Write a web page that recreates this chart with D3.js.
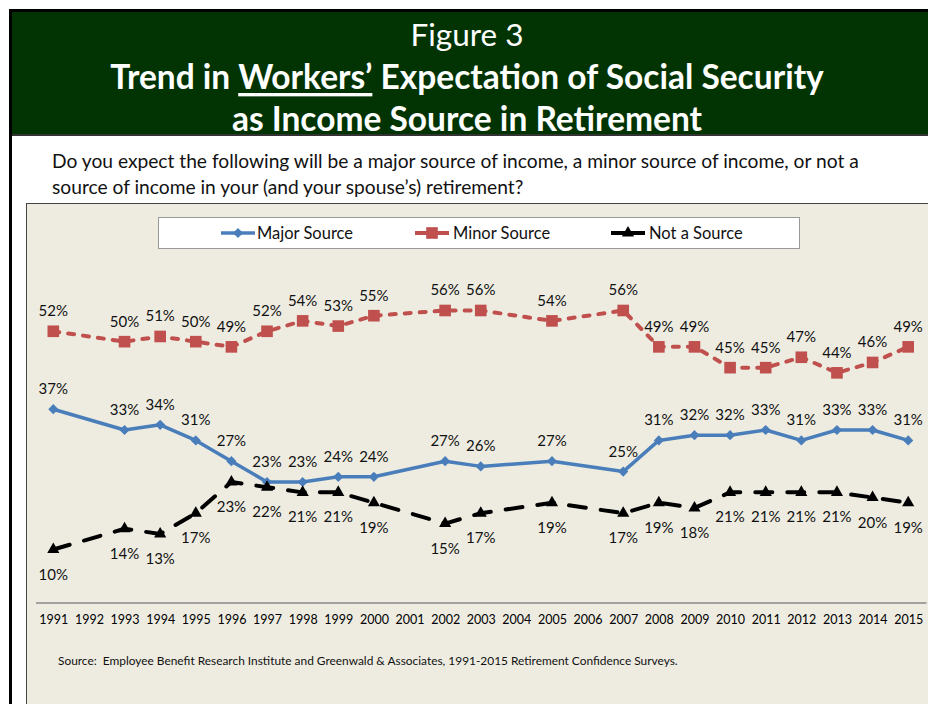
<!DOCTYPE html>
<html>
<head>
<meta charset="utf-8">
<script src="https://cdn.jsdelivr.net/npm/d3@7"></script>
<style>
  body { margin: 0; background: #fff; }
  text { font-family: Lato, "Open Sans", sans-serif; }
</style>
</head>
<body>
<script>
var w = 928
var h = 704

// all category years on the axis (gaps where there was no survey)
var axisYears = d3.range(1991, 2016)

// survey years with data
var years = [1991, 1993, 1994, 1995, 1996, 1997, 1998, 1999, 2000, 2002, 2003, 2005, 2007, 2008, 2009, 2010, 2011, 2012, 2013, 2014, 2015]
var major = [37, 33, 34, 31, 27, 23, 23, 24, 24, 27, 26, 27, 25, 31, 32, 32, 33, 31, 33, 33, 31]
var minor = [52, 50, 51, 50, 49, 52, 54, 53, 55, 56, 56, 54, 56, 49, 49, 45, 45, 47, 44, 46, 49]
var notSource = [10, 14, 13, 17, 23, 22, 21, 21, 19, 15, 17, 19, 17, 19, 18, 21, 21, 21, 21, 20, 19]

var seriesNames = ["Major Source", "Minor Source", "Not a Source"]

var svg = d3.select("body")
    .append("svg")
    .attr("width", w)
    .attr("height", h)

// outer frame and header
svg.append("rect")
    .attr("x", 10.5).attr("y", 10.5)
    .attr("width", 1000).attr("height", 1000)
    .attr("fill", "#fff")
    .attr("stroke", "#000")
    .attr("stroke-width", 3)

svg.append("rect")
    .attr("x", 12).attr("y", 12)
    .attr("width", w).attr("height", 122)
    .attr("fill", "#023302")

svg.append("line")
    .attr("x1", 12).attr("x2", w)
    .attr("y1", 135).attr("y2", 135)
    .attr("stroke", "#333")
    .attr("stroke-width", 2)

svg.append("text")
    .attr("x", 467).attr("y", 34)
    .attr("text-anchor", "middle")
    .attr("dominant-baseline", "central")
    .attr("fill", "#fff")
    .style("font-size", "31.5px")
    .text("Figure 3")

var t2 = svg.append("text")
    .attr("x", 467).attr("y", 76)
    .attr("text-anchor", "middle")
    .attr("dominant-baseline", "central")
    .attr("fill", "#fff")
    .style("font-size", "33.5px")
    .style("font-weight", "bold")
t2.append("tspan").text("Trend in ")
t2.append("tspan").style("text-decoration", "underline").text("Workers’")
t2.append("tspan").text(" Expectation of Social Security")

svg.append("text")
    .attr("x", 467).attr("y", 118)
    .attr("text-anchor", "middle")
    .attr("dominant-baseline", "central")
    .attr("fill", "#fff")
    .style("font-size", "33.5px")
    .style("font-weight", "bold")
    .text("as Income Source in Retirement")

// question
var question = [
    "Do you expect the following will be a major source of income, a minor source of income, or not a",
    "source of income in your (and your spouse’s) retirement?"
]
svg.selectAll(".question")
    .data(question)
    .enter()
    .append("text")
    .attr("class", "question")
    .attr("x", 52)
    .attr("y", function(d, i) { return 160 + i * 26 })
    .attr("dominant-baseline", "central")
    .attr("fill", "#111")
    .style("font-size", "19.2px")
    .text(function(d) { return d })

// chart area
svg.append("rect")
    .attr("x", 26.5).attr("y", 203.5)
    .attr("width", 1000).attr("height", 1000)
    .attr("fill", "#EEECE1")
    .attr("stroke", "#444")
    .attr("stroke-width", 1)

var x = d3.scalePoint()
    .domain(axisYears)
    .range([35.5, 926])
    .padding(0.5)

var y = d3.scaleLinear()
    .domain([0, 60])
    .range([601.5, 289.7])

// x axis
var xAxis = d3.axisBottom(x)
    .tickSize(0)
    .tickPadding(13)
    .tickFormat(d3.format("d"))

var gx = svg.append("g")
    .attr("transform", "translate(0,602.5)")
    .call(xAxis)
gx.select(".domain").attr("stroke", "#888").attr("stroke-width", 1.5)
gx.selectAll("text")
    .attr("fill", "#000")
    .style("font-size", "12.5px")
    .style("font-family", "Lato, sans-serif")

var diamond = d3.symbol().type(d3.symbolSquare).size(52)
var square = d3.symbol().type(d3.symbolSquare).size(135)
var triangle = d3.symbol().type(d3.symbolTriangle).size(64)

var series = [
    { name: seriesNames[0], values: major, color: "#4A7EBB", dash: null, cap: "butt", width: 3.5,
      marker: diamond, rotate: 45, labelDy: -21 },
    { name: seriesNames[1], values: minor, color: "#C0504D", dash: "6,9", cap: "round", width: 4,
      marker: square, rotate: 0, labelDy: -21 },
    { name: seriesNames[2], values: notSource, color: "#000", dash: "17,15", cap: "round", width: 4,
      marker: triangle, rotate: 0, labelDy: 24 }
]

var line = d3.line()
    .x(function(d) { return x(d.year) })
    .y(function(d) { return y(d.value) })

series.forEach(function(s) {
    var pts = years.map(function(yr, i) { return { year: yr, value: s.values[i] } })
    var g = svg.append("g")

    g.append("path")
        .datum(pts)
        .attr("d", line)
        .attr("fill", "none")
        .attr("stroke", s.color)
        .attr("stroke-width", s.width)
        .attr("stroke-dasharray", s.dash)
        .attr("stroke-linecap", s.cap)
        .attr("stroke-linejoin", "round")

    g.selectAll(".marker")
        .data(pts)
        .enter()
        .append("path")
        .attr("d", s.marker)
        .attr("transform", function(d) {
            return "translate(" + x(d.year) + "," + y(d.value) + ") rotate(" + s.rotate + ")"
        })
        .attr("fill", s.color)

    g.selectAll(".label")
        .data(pts)
        .enter()
        .append("text")
        .attr("x", function(d) { return x(d.year) })
        .attr("y", function(d) { return y(d.value) + s.labelDy })
        .attr("text-anchor", "middle")
        .attr("dominant-baseline", "central")
        .attr("fill", "#111")
        .style("font-size", "15px")
        .text(function(d) { return d.value + "%" })
})

// legend
svg.append("rect")
    .attr("x", 158.5).attr("y", 217.5)
    .attr("width", 641).attr("height", 31)
    .attr("fill", "#fff")
    .attr("stroke", "#999")

var legendX = [221, 415, 611]
var leg = svg.selectAll(".legend")
    .data(series)
    .enter()
    .append("g")
    .attr("transform", function(d, i) { return "translate(" + legendX[i] + ",233)" })

leg.append("line")
    .attr("x1", 0).attr("x2", 34)
    .attr("stroke", function(d) { return d.color })
    .attr("stroke-width", function(d) { return d.width })
leg.append("path")
    .attr("d", function(d) { return d.marker() })
    .attr("transform", function(d) { return "translate(17,0) rotate(" + d.rotate + ")" })
    .attr("fill", function(d) { return d.color })
leg.append("text")
    .attr("x", function(d, i) { return i == 0 ? 36 : 38 })
    .attr("dominant-baseline", "central")
    .attr("fill", "#111")
    .style("font-size", "16.5px")
    .text(function(d) { return d.name })

// source note
svg.append("text")
    .attr("x", 58).attr("y", 660.5)
    .attr("dominant-baseline", "central")
    .attr("fill", "#111")
    .style("font-size", "11.9px")
    .style("white-space", "pre")
    .text("Source:  Employee Benefit Research Institute and Greenwald & Associates, 1991-2015 Retirement Confidence Surveys.")
</script>
</body>
</html>
